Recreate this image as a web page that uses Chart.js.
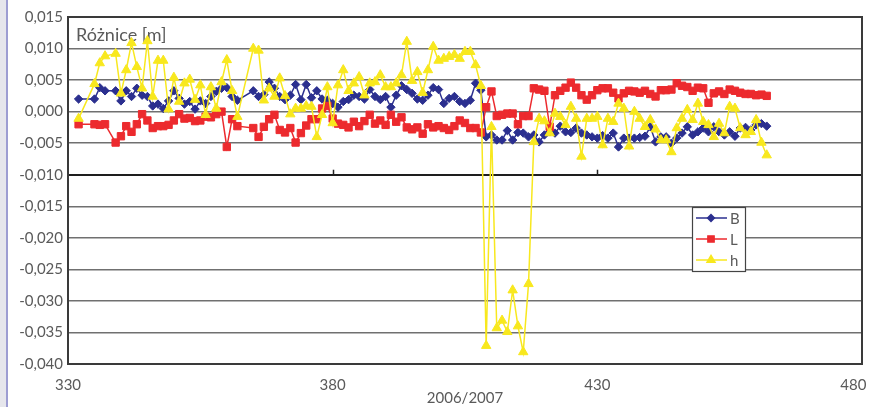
<!DOCTYPE html>
<html>
<head>
<meta charset="utf-8">
<script src="https://cdn.jsdelivr.net/npm/chart.js@4/dist/chart.umd.min.js"></script>
<style>
  html, body { margin: 0; padding: 0; background: #fff; }
  #wrap { width: 869px; height: 407px; }
</style>
</head>
<body>
<div id="wrap"><canvas id="c" width="869" height="407"></canvas></div>
<script>
// Day of year (2006 days continue past 365 into 2007)
const days = [
  332,335,336,337,339,340,341,342,343,344,
  345,346,347,348,349,350,351,352,353,354,
  355,356,357,358,359,360,361,362,365,366,
  367,368,369,370,371,372,373,374,375,376,
  377,378,379,380,381,382,383,384,385,386,
  387,388,389,390,391,392,393,394,395,396,
  397,398,399,400,401,402,403,404,405,406,
  407,408,409,410,411,412,413,414,415,416,
  417,418,419,420,421,422,423,424,425,426,
  427,428,429,430,431,432,433,434,435,436,
  437,438,439,440,441,442,443,444,445,446,
  447,448,449,450,451,452,453,454,455,456,
  457,458,459,460,461,462
];

// Differences in metres
const diffB = [
  0.0020, 0.0020, 0.0038, 0.0033, 0.0033, 0.0017, 0.0033, 0.0024, 0.0037, 0.0026,
  0.0024, 0.0009, 0.0012, 0.0005, 0.0017, 0.0033, 0.0021, 0.0012, 0.0016, 0.0004,
  0.0017, 0.0013, 0.0024, 0.0032, 0.0037, 0.0038, 0.0024, 0.0018, 0.0033, 0.0024,
  0.0027, 0.0047, 0.0037, 0.0024, 0.0019, 0.0026, 0.0043, 0.0019, 0.0043, 0.0022,
  0.0033, 0.0020, 0.0018, 0.0013, 0.0007, 0.0016, 0.0019, 0.0026, 0.0024, 0.0020,
  0.0035, 0.0024, 0.0019, 0.0024, 0.0007, 0.0026, 0.0041, 0.0035, 0.0029, 0.0020,
  0.0018, 0.0026, 0.0038, 0.0035, 0.0013, 0.0021, 0.0024, 0.0016, 0.0013, 0.0018,
  0.0045, 0.0034, -0.0040, -0.0037, -0.0045, -0.0045, -0.0030, -0.0045, -0.0033, -0.0034,
  -0.0040, -0.0037, -0.0048, -0.0037, -0.0032, -0.0034, -0.0023, -0.0032, -0.0033, -0.0026,
  -0.0034, -0.0037, -0.0040, -0.0042, -0.0038, -0.0042, -0.0034, -0.0056, -0.0042, -0.0042,
  -0.0042, -0.0041, -0.0039, -0.0024, -0.0048, -0.0040, -0.0040, -0.0050, -0.0042, -0.0034,
  -0.0024, -0.0037, -0.0032, -0.0026, -0.0032, -0.0024, -0.0032, -0.0037, -0.0032, -0.0039,
  -0.0026, -0.0025, -0.0029, -0.0021, -0.0019, -0.0023
];

const diffL = [
  -0.0020, -0.0020, -0.0021, -0.0020, -0.0049, -0.0039, -0.0023, -0.0032, -0.0020, -0.0004,
  -0.0014, -0.0026, -0.0023, -0.0023, -0.0021, -0.0014, -0.0004, -0.0011, -0.0010, -0.0015,
  -0.0014, -0.0008, -0.0009, -0.0004, 0.0000, -0.0056, -0.0012, -0.0023, -0.0026, -0.0040,
  -0.0024, -0.0012, -0.0005, -0.0029, -0.0033, -0.0026, -0.0049, -0.0034, -0.0022, -0.0012,
  -0.0012, 0.0005, 0.0009, -0.0011, -0.0019, -0.0021, -0.0025, -0.0016, -0.0023, -0.0015,
  -0.0005, -0.0019, -0.0014, -0.0021, -0.0005, -0.0016, -0.0009, -0.0025, -0.0028, -0.0025,
  -0.0035, -0.0020, -0.0025, -0.0023, -0.0026, -0.0029, -0.0023, -0.0014, -0.0018, -0.0026,
  -0.0026, -0.0033, 0.0007, 0.0032, -0.0007, -0.0005, -0.0003, -0.0003, -0.0020, -0.0007,
  -0.0007, 0.0037, 0.0035, 0.0033, -0.0024, 0.0026, 0.0033, 0.0038, 0.0046, 0.0038,
  0.0026, 0.0019, 0.0026, 0.0034, 0.0037, 0.0037, 0.0030, 0.0021, 0.0029, 0.0033,
  0.0032, 0.0030, 0.0033, 0.0028, 0.0024, 0.0034, 0.0034, 0.0035, 0.0045, 0.0041,
  0.0039, 0.0033, 0.0038, 0.0037, 0.0014, 0.0029, 0.0032, 0.0028, 0.0035, 0.0033,
  0.0030, 0.0028, 0.0028, 0.0026, 0.0027, 0.0025
];

const diffH = [
  -0.0011, 0.0044, 0.0077, 0.0088, 0.0092, 0.0029, 0.0066, 0.0109, 0.0071, 0.0037,
  0.0112, 0.0024, 0.0081, 0.0081, 0.0004, 0.0054, 0.0016, 0.0045, 0.0051, 0.0019,
  0.0042, -0.0005, 0.0039, 0.0005, 0.0047, 0.0082, 0.0033, -0.0008, 0.0100, 0.0097,
  0.0018, 0.0037, 0.0024, 0.0053, 0.0025, -0.0004, 0.0005, 0.0005, 0.0009, 0.0008,
  -0.0040, -0.0005, 0.0039, -0.0018, 0.0042, 0.0066, 0.0033, 0.0045, 0.0055, 0.0026,
  0.0045, 0.0047, 0.0058, 0.0039, 0.0039, 0.0045, 0.0058, 0.0111, 0.0049, 0.0063,
  0.0030, 0.0066, 0.0103, 0.0081, 0.0084, 0.0087, 0.0090, 0.0084, 0.0095, 0.0095,
  0.0074, 0.0041, -0.0371, -0.0024, -0.0343, -0.0331, -0.0349, -0.0283, -0.0340, -0.0381,
  -0.0273, -0.0048, -0.0011, -0.0015, -0.0034, -0.0003, -0.0008, -0.0021, 0.0008, -0.0011,
  -0.0071, -0.0011, -0.0011, -0.0008, -0.0053, -0.0011, -0.0016, 0.0013, 0.0005, -0.0055,
  0.0000, -0.0011, -0.0024, -0.0013, -0.0028, -0.0045, -0.0045, -0.0064, -0.0026, -0.0011,
  0.0003, -0.0013, 0.0013, -0.0016, -0.0021, -0.0040, -0.0019, -0.0034, 0.0008, 0.0005,
  -0.0026, -0.0037, -0.0032, -0.0013, -0.0049, -0.0069
];

const seriesNames = ['B', 'L', 'h'];
const yMin = -0.040, yMax = 0.015, yStep = 0.005;
const xMin = 330, xMax = 480, xStep = 50;
const xAxisTitle = '2006/2007';
const plotTitle = 'Różnice [m]';

const FONT = 'Lato, "Open Sans", sans-serif';
const TEXT = '#5a5a5a';

const styles = [
  { color: '#2b2f8f', pointStyle: 'rectRot', radius: 4.2 },
  { color: '#ec2a2e', pointStyle: 'rect', radius: 5.2 },
  { color: '#f8e81e', pointStyle: 'triangle', radius: 5.4 }
];

function toPoints(vals) {
  return days.map((d, i) => ({ x: d, y: vals[i] }));
}

const series = [diffB, diffL, diffH];
const datasets = series.map((vals, i) => ({
  label: seriesNames[i],
  data: toPoints(vals),
  borderColor: styles[i].color,
  backgroundColor: styles[i].color,
  borderWidth: 1.5,
  pointStyle: styles[i].pointStyle,
  pointRadius: styles[i].radius,
  pointBorderWidth: 1,
  pointBackgroundColor: styles[i].color,
  pointBorderColor: styles[i].color,
  tension: 0,
  order: 2 - i
}));

const isAxisValue = v => Math.abs(v + 0.010) < 1e-9;

const decor = {
  id: 'decor',
  beforeDraw(chart) {
    const ctx = chart.ctx;
    ctx.save();
    ctx.fillStyle = '#ffffff';
    ctx.fillRect(0, 0, chart.width, chart.height);
    ctx.fillStyle = '#e6e6ec';
    ctx.fillRect(0, 0, 6, chart.height);
    ctx.fillStyle = '#9d9dd2';
    ctx.fillRect(6, 0, 2, chart.height);
    ctx.restore();
  },
  beforeDatasetsDraw(chart) {
    const ctx = chart.ctx;
    const a = chart.chartArea;
    const xs = chart.scales.x, ys = chart.scales.y;
    ctx.save();
    // plot frame
    ctx.strokeStyle = '#3a3a3a';
    ctx.lineWidth = 2;
    ctx.strokeRect(a.left, a.top, a.right - a.left, a.bottom - a.top);
    // tick marks on the horizontal axis line
    const yAxis = ys.getPixelForValue(-0.010);
    ctx.strokeStyle = '#222';
    ctx.lineWidth = 1.5;
    for (let v = xMin + xStep; v < xMax; v += xStep) {
      const px = Math.round(xs.getPixelForValue(v)) + 0.5;
      ctx.beginPath();
      ctx.moveTo(px, yAxis - 5);
      ctx.lineTo(px, yAxis + 1);
      ctx.stroke();
    }
    // title inside plot
    ctx.fillStyle = TEXT;
    ctx.font = '18px ' + FONT;
    ctx.textBaseline = 'alphabetic';
    ctx.textAlign = 'left';
    ctx.fillText(plotTitle, a.left + 8, a.top + 24);
    ctx.restore();
  },
  afterDraw(chart) {
    const ctx = chart.ctx;
    ctx.save();
    const bx = 692, by = 207, bw = 53, bh = 64;
    ctx.fillStyle = '#ffffff';
    ctx.fillRect(bx, by, bw, bh);
    ctx.strokeStyle = '#444';
    ctx.lineWidth = 1.2;
    ctx.strokeRect(bx + 0.5, by + 0.5, bw, bh);
    ctx.font = '15px ' + FONT;
    ctx.textBaseline = 'middle';
    ctx.textAlign = 'left';
    seriesNames.forEach((name, i) => {
      const y = by + 11 + i * 21;
      const st = styles[i];
      ctx.strokeStyle = st.color;
      ctx.lineWidth = 1.5;
      ctx.beginPath();
      ctx.moveTo(bx + 4, y);
      ctx.lineTo(bx + 35, y);
      ctx.stroke();
      ctx.fillStyle = st.color;
      if (Chart.helpers && Chart.helpers.drawPoint) {
        Chart.helpers.drawPoint(ctx, { pointStyle: st.pointStyle, rotation: 0, radius: st.radius - 0.8, borderWidth: 1 }, bx + 19, y);
      }
      ctx.fillStyle = TEXT;
      ctx.fillText(name, bx + 38, y + 1);
    });
    ctx.restore();
  }
};

new Chart(document.getElementById('c'), {
  type: 'line',
  data: { datasets },
  options: {
    responsive: false,
    animation: false,
    spanGaps: true,
    layout: { padding: { top: 17, right: 7, left: 0, bottom: 0 } },
    plugins: {
      legend: { display: false },
      tooltip: { enabled: false }
    },
    scales: {
      x: {
        type: 'linear',
        min: xMin,
        max: xMax,
        grid: { display: false, drawTicks: false },
        border: { display: false },
        ticks: {
          stepSize: xStep,
          padding: 12,
          color: TEXT,
          font: { family: FONT, size: 15 },
          maxRotation: 0,
          // the last label is kept inside the canvas edge
          callback: v => v === xMax ? String(v) + '\u2007\u2007' : String(v)
        },
        title: {
          display: true,
          text: xAxisTitle,
          color: TEXT,
          font: { family: FONT, size: 15 },
          padding: 0
        },
        afterFit(scale) {
          scale.height = 43;
          scale.paddingLeft = 0;
          scale.paddingRight = 0;
        }
      },
      y: {
        min: yMin,
        max: yMax,
        grid: {
          drawTicks: false,
          color: ctx => isAxisValue(ctx.tick.value) ? '#1e1e1e' : '#707070',
          lineWidth: ctx => isAxisValue(ctx.tick.value) ? 2 : 1.5
        },
        border: { display: false },
        ticks: {
          stepSize: yStep,
          padding: 5,
          color: TEXT,
          font: { family: FONT, size: 15 },
          callback: v => (v < -1e-9 ? '-' : '') + Math.abs(v).toFixed(3).replace('.', ',')
        },
        afterFit(scale) {
          scale.width = 68;
          scale.paddingTop = 0;
          scale.paddingBottom = 0;
        }
      }
    }
  },
  plugins: [decor]
});
</script>
</body>
</html>
